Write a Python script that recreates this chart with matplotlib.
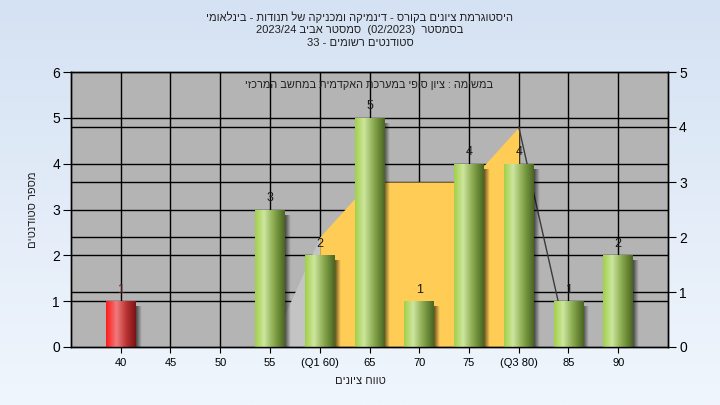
import re
import numpy as np
import matplotlib
matplotlib.use('Agg')
import matplotlib.pyplot as plt
from matplotlib.transforms import blended_transform_factory
from matplotlib.colors import LinearSegmentedColormap

plt.rcParams['font.family'] = ['Liberation Sans Narrow', 'Liberation Sans', 'DejaVu Sans']

# Texts (logical order, converted to visual order below)
TITLE_LINES = [
    "היסטוגרמת ציונים בקורס - דינמיקה ומכניקה של תנודות - בינלאומי",
    "בסמסטר  (02/2023)  סמסטר אביב 2023/24",
    "סטודנטים רשומים - 33",
]
SUBTITLE = "במשימה : ציון סופי במערכת האקדמית במחשב המרכזי"
X_LABEL = "טווח ציונים"
Y_LABEL = "מספר סטודנטים"

# Histogram data
grade_values = [40, 45, 50, 55, 60, 65, 70, 75, 80, 85, 90]
grade_labels = ["40", "45", "50", "55", "(Q1 60)", "65", "70", "75", "(Q3 80)", "85", "90"]
student_counts = [1, 0, 0, 3, 2, 5, 1, 4, 4, 1, 2]
failing_grades = [40]

# Distribution area (right axis units)
area_grades = [55, 60, 65, 70, 75, 80, 85]
area_values = [0, 2, 3, 3, 3, 4, 0]
q1_grade = 60
q3_grade = 80

LEFT_MAX = 6
RIGHT_MAX = 5


def visual(s):
    # crude bidi: reverse Hebrew runs, keep numbers / latin runs as is
    runs = re.findall(r'[0-9A-Za-z/().]+|[^0-9A-Za-z/().]+', s)
    out = []
    for r in reversed(runs):
        out.append(r if re.match(r'[0-9A-Za-z/().]', r) else r[::-1])
    return ''.join(out)


fig = plt.figure(figsize=(7.2, 4.05), dpi=100)

# background gradient
bg = fig.add_axes([0, 0, 1, 1], zorder=-5)
bg_cmap = LinearSegmentedColormap.from_list('bg', ['#d5e2f3', '#f0f6fd'])
bg.imshow(np.linspace(0, 1, 256).reshape(-1, 1), cmap=bg_cmap, aspect='auto',
          extent=(0, 1, 0, 1))
bg.axis('off')

ax = fig.add_axes([71 / 720, 1 - 347 / 405, (668 - 71) / 720, (347 - 72) / 405])
ax.set_facecolor('#b4b4b4')
ax2 = ax.twinx()

ax.set_xlim(35, 95)
ax.set_ylim(0, LEFT_MAX)
ax2.set_ylim(0, RIGHT_MAX)

# grid lines
for v in range(1, LEFT_MAX):
    ax.axhline(v, color='black', lw=1, zorder=1)
right_trans = blended_transform_factory(ax.transAxes, ax2.transData)
for v in range(1, RIGHT_MAX):
    ax.plot([0, 1], [v, v], color='black', lw=1, zorder=1, transform=right_trans)
for g in grade_values:
    ax.axvline(g, color='black', lw=1, zorder=1)

# distribution area drawn with x from ax and y from the right axis
area_trans = blended_transform_factory(ax.transData, ax2.transData)
xa = np.array(area_grades)
ya = np.array(area_values)
m_left = xa <= q1_grade
m_mid = (xa >= q1_grade) & (xa <= q3_grade)
m_right = xa >= q3_grade
ax.fill_between(xa[m_left], 0, ya[m_left], transform=area_trans,
                color='#c4c4c4', lw=0, zorder=1.5)
ax.fill_between(xa[m_mid], 0, ya[m_mid], transform=area_trans,
                color='#ffcc55', lw=0, zorder=1.5)
ax.plot(xa[m_right], ya[m_right], color='#3a3a3a', lw=1, zorder=2,
        transform=area_trans)

# bars with cylinder shading
green_cmap = LinearSegmentedColormap.from_list(
    'g', [(0, '#a2d04a'), (0.3, '#cde69e'), (0.65, '#86a64c'), (1, '#4a6620')])
red_cmap = LinearSegmentedColormap.from_list(
    'r', [(0, '#ff1c1c'), (0.35, '#f07a7a'), (0.7, '#b83030'), (1, '#7a1414')])
grad = np.linspace(0, 1, 64).reshape(1, -1)
shadow = np.zeros((1, 16, 4))
shadow[0, :, 3] = np.linspace(0.6, 0, 16)

bars = ax.bar(grade_values, student_counts, width=3, facecolor='none',
              edgecolor='none', zorder=3)
for rect, g, n in zip(bars, grade_values, student_counts):
    if n == 0:
        continue
    x0, w = rect.get_x(), rect.get_width()
    cmap = red_cmap if g in failing_grades else green_cmap
    ax.imshow(shadow, extent=(x0 + w, x0 + w + 0.55, 0, n - 0.12),
              aspect='auto', zorder=2.9, interpolation='bilinear')
    im = ax.imshow(grad, cmap=cmap, extent=(x0, x0 + w, 0, n), aspect='auto',
                   zorder=3, interpolation='bilinear')
    im.set_clip_path(rect)
    ax.text(g, n + 0.12, str(n), ha='center', va='bottom', fontsize=9,
            color='#5a1a1a' if g in failing_grades else '#1a1a1a', zorder=4)

ax.set_xlim(35, 95)
ax.set_ylim(0, LEFT_MAX)

ax.set_xticks(grade_values)
ax.set_xticklabels(grade_labels, fontsize=8)
ax.set_yticks(range(LEFT_MAX + 1))
ax.tick_params(axis='y', labelsize=10, length=6, pad=2)
ax.tick_params(axis='x', length=4, pad=4)
ax2.set_yticks(range(RIGHT_MAX + 1))
ax2.tick_params(axis='y', labelsize=10, length=6, pad=2)
for a in (ax, ax2):
    for sp in a.spines.values():
        sp.set_color('black')
        sp.set_linewidth(1)

ax.text(0.5, 0.953, visual(SUBTITLE), transform=ax.transAxes, ha='center',
        va='center', fontsize=7.8, color='#202020', zorder=5)

for i, line in enumerate(TITLE_LINES):
    fig.text(0.5, 1 - (17 + 13 * i) / 405, visual(line), ha='center',
             va='center', fontsize=8, color='#202020')
fig.text(0.5, 1 - 381 / 405, visual(X_LABEL), ha='center', va='center',
         fontsize=8, color='#202020')
fig.text(33 / 720, 1 - 210 / 405, visual(Y_LABEL), ha='center', va='center',
         rotation=90, fontsize=8, color='#202020')

fig.savefig('out.png', dpi=100)
